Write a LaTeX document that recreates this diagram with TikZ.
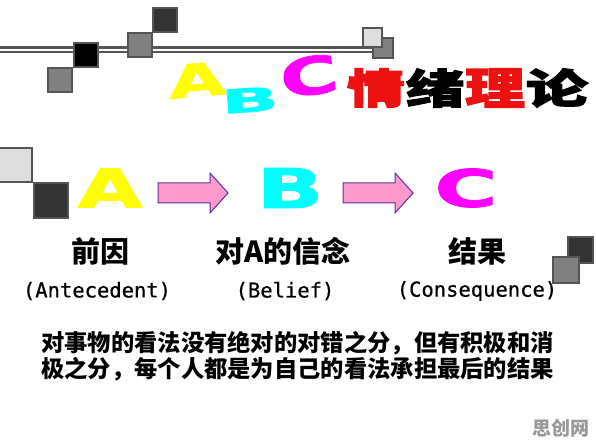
\documentclass[tikz,border=0pt]{standalone}
\usepackage{fontspec}
\usepackage{graphicx}
\newfontfamily\cjk{Noto Sans CJK SC}
\newfontfamily\cjkh{Noto Sans CJK SC}[BoldFeatures={FakeBold=2.5}]
\newfontfamily\heavy{DejaVu Sans}[BoldFeatures={FakeBold=1.5}]
\newfontfamily\mono{DejaVu Sans Mono}[FakeBold=0.6]
\definecolor{sqborder}{HTML}{555555}
\definecolor{sqgray}{HTML}{808080}
\definecolor{sqdark}{HTML}{333333}
\definecolor{sqlight}{HTML}{DDDDDD}
\definecolor{arrowpink}{HTML}{FF99CC}
\definecolor{arrowedge}{HTML}{5533AA}
\definecolor{cyanB}{HTML}{00FFFF}
\definecolor{magC}{HTML}{FF00FF}
\definecolor{yelA}{HTML}{FFFF00}
\definecolor{titlered}{HTML}{EE1111}
\begin{document}
\begin{tikzpicture}[x=1pt,y=-1pt,
  sq/.style={draw=sqborder, line width=2.4pt},
  block/.style={fill=arrowpink, draw=arrowedge, line width=1pt, line join=miter},
  big/.style={inner sep=0pt, outer sep=0pt},
  lbl/.style={inner sep=0pt, font=\cjk\bfseries\fontsize{29}{29}\selectfont},
  lat/.style={inner sep=0pt, font=\mono\fontsize{20.5}{20.5}\selectfont},
  body/.style={inner sep=0pt, anchor=west, font=\cjk\bfseries\fontsize{23.3}{23.3}\selectfont}]
\fill[white] (0,0) rectangle (596,446);
\useasboundingbox (0,0) rectangle (596,446);
% top double line
\draw[sqborder, line width=7pt] (0,50) -- (392,50);
\draw[white, line width=2.2pt] (0,50) -- (392,50);
% top squares
\draw[sq, fill=black] (74,43) rectangle (98,67);
\draw[sq, fill=sqgray] (48,68) rectangle (72,92);
\draw[sq, fill=sqgray] (128,33) rectangle (152,57);
\draw[sq, fill=sqdark] (153,8) rectangle (177,32);
\draw[sq, fill=sqgray] (373,38) rectangle (393,58);
\draw[sq, fill=sqlight] (363,28) rectangle (382,47);
% left squares
\draw[sq, fill=sqlight] (-2,148) rectangle (32,182);
\draw[sq, fill=sqdark] (34,183) rectangle (68,218);
% right squares
\draw[sq, fill=sqdark] (568,237) rectangle (593,263);
\draw[sq, fill=sqgray] (553,257) rectangle (579,283);
% title letters
\node[big, rotate=5] (tA) at (197,80) {\resizebox*{57pt}{33pt}{\heavy\bfseries\color{yelA}A}};
\node[big, rotate=4] (tB) at (250,100) {\resizebox*{58pt}{24pt}{\heavy\bfseries\color{cyanB}B}};
\node[big, rotate=8] (tC) at (309,76) {\resizebox*{58pt}{39pt}{\heavy\bfseries\color{magC}C}};
% title chinese
\node[big] (t1) at (376,88) {\resizebox*{58pt}{39pt}{\cjkh\bfseries\color{titlered}情}};
\node[big] (t2) at (435,88) {\resizebox*{58pt}{39pt}{\cjkh\bfseries 绪}};
\node[big] (t3) at (495,88) {\resizebox*{60pt}{39pt}{\cjkh\bfseries\color{titlered}理}};
\node[big] (t4) at (557,88) {\resizebox*{62pt}{39pt}{\cjkh\bfseries 论}};
% middle letters
\node[big] (mA) at (110,188) {\resizebox*{65pt}{39pt}{\heavy\bfseries\color{yelA}A}};
\node[big] (mB) at (290,188) {\resizebox*{67pt}{40pt}{\heavy\bfseries\color{cyanB}B}};
\node[big] (mC) at (466,188) {\resizebox*{63pt}{39pt}{\heavy\bfseries\color{magC}C}};
% block arrows
\draw[block] (158,183) -- (210,183) -- (210,173) -- (228,193) -- (210,213) -- (210,203) -- (158,203) -- cycle;
\draw[block] (343,183) -- (395,183) -- (395,173) -- (413,193) -- (395,213) -- (395,203) -- (343,203) -- cycle;
% labels
\node[lbl] (l1) at (100,251) {前因};
\node[lbl] (l2) at (283,251) {对A的信念};
\node[lbl] (l3) at (477,251) {结果};
\node[lat] (e1) at (97,291) {(Antecedent)};
\node[lat] (e2) at (285,291) {(Belief)};
\node[lat] (e3) at (477,291) {(Consequence)};
% body text
\node[body] (b1) at (41,343) {对事物的看法没有绝对的对错之分，但有积极和消};
\node[body] (b2) at (41,369) {极之分，每个人都是为自己的看法承担最后的结果};
% watermark
\node[inner sep=0pt, text=black!40, font=\cjk\bfseries\fontsize{19}{19}\selectfont] (wm) at (561,428) {思创网};
\end{tikzpicture}
\end{document}
